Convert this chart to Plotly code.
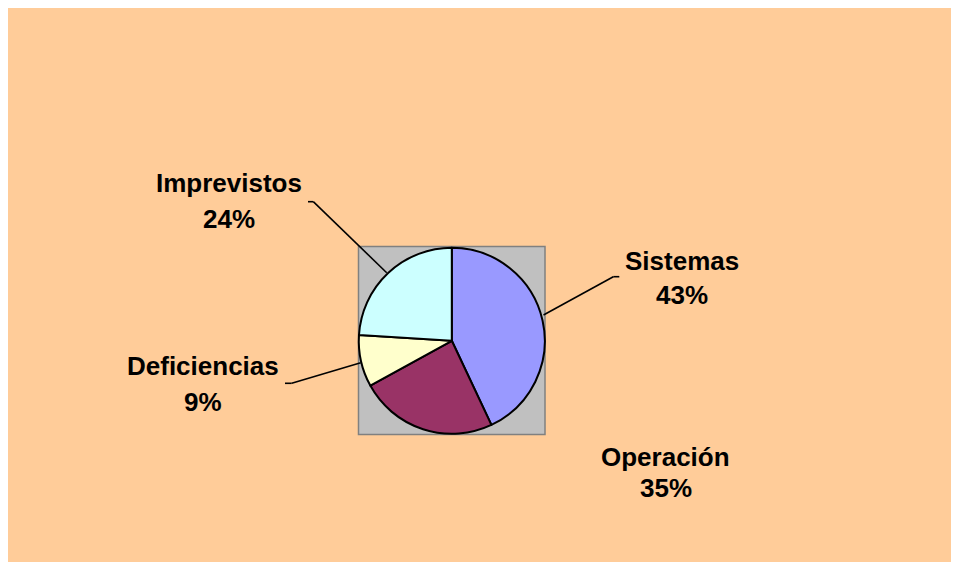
import plotly.graph_objects as go

categories = ["Sistemas", "Operación", "Deficiencias", "Imprevistos"]
values = [43, 24, 9, 24]
label_pct = ["43%", "35%", "9%", "24%"]
colors = ["#9999FF", "#993366", "#FFFFCC", "#CCFFFF"]

W, H = 959, 562
OFF = 8  # page body margin in the screenshot

def px(x):
    return (x - OFF) / W

def py(y):
    return 1 - (y - OFF) / H

fig = go.Figure()
fig.add_trace(go.Pie(
    labels=categories, values=values, sort=False, direction="clockwise",
    rotation=0, textinfo="none", hoverinfo="label+percent",
    marker=dict(colors=colors, line=dict(color="black", width=2)),
    domain=dict(x=[px(358.8), px(544.8)], y=[py(434.2), py(247.4)]),
    showlegend=False,
))

shapes = [
    dict(type="rect", xref="paper", yref="paper", x0=px(358.5), x1=px(545), y0=py(434.5), y1=py(246.5),
         fillcolor="#C0C0C0", line=dict(color="#808080", width=1.5), layer="below"),
]
# leader lines (label side -> slice edge)
leaders = [
    [(619.3, 276.7), (613.3, 276.7), (543.5, 315.0)],   # Sistemas
    [(285.0, 383.3), (291.7, 383.3), (360.7, 362.7)],   # Deficiencias
    [(308.0, 201.7), (313.3, 201.7), (386.7, 272.7)],   # Imprevistos
]
for pts in leaders:
    for (xa, ya), (xb, yb) in zip(pts[:-1], pts[1:]):
        shapes.append(dict(type="line", xref="paper", yref="paper",
                           x0=px(xa), y0=py(ya), x1=px(xb), y1=py(yb),
                           line=dict(color="black", width=1.6), layer="above"))

# label positions: (x center, y line1, y line2)
label_pos = [(681.5, 261.0, 294.5), (665.5, 456.5, 488.0), (203.0, 366.0, 402.0), (229.0, 183.0, 219.0)]
annotations = []
fnt = dict(family="Liberation Sans, Arial, sans-serif", size=26, color="black", weight="bold")
for name, pct, (x, y1, y2) in zip(categories, label_pct, label_pos):
    annotations.append(dict(text=name, x=px(x), y=py(y1), xref="paper", yref="paper",
                            showarrow=False, xanchor="center", yanchor="middle", font=fnt))
    annotations.append(dict(text=pct, x=px(x), y=py(y2), xref="paper", yref="paper",
                            showarrow=False, xanchor="center", yanchor="middle", font=fnt))

fig.update_layout(
    width=W, height=H, margin=dict(l=0, r=0, t=0, b=0),
    paper_bgcolor="#FFCC99", plot_bgcolor="#FFCC99",
    shapes=shapes, annotations=annotations,
)
fig.write_html("out.html")
